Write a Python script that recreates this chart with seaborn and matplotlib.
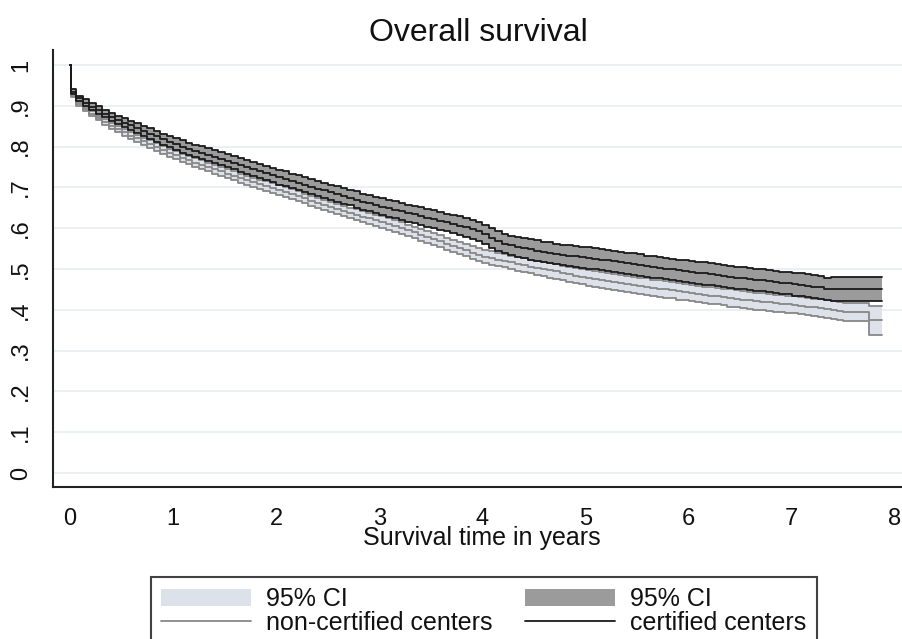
import numpy as np
import pandas as pd
import matplotlib
matplotlib.use("Agg")
import matplotlib.pyplot as plt
from matplotlib.patches import Patch
from matplotlib.lines import Line2D
import seaborn as sns

# Follow-up time points (years), one row per year
times = [0.0, 0.01, 0.0625, 0.125, 0.1875, 0.25, 0.3125, 0.375, 0.4375, 0.5, 0.5625, 0.625, 0.6875, 0.75, 0.8125, 0.875, 0.9375,
         1.0, 1.0625, 1.125, 1.1875, 1.25, 1.3125, 1.375, 1.4375, 1.5, 1.5625, 1.625, 1.6875, 1.75, 1.8125, 1.875, 1.9375,
         2.0, 2.0625, 2.125, 2.1875, 2.25, 2.3125, 2.375, 2.4375, 2.5, 2.5625, 2.625, 2.6875, 2.75, 2.8125, 2.875, 2.9375,
         3.0, 3.0625, 3.125, 3.1875, 3.25, 3.3125, 3.375, 3.4375, 3.5, 3.5625, 3.625, 3.6875, 3.75, 3.8125, 3.875, 3.9375,
         4.0, 4.0625, 4.125, 4.1875, 4.25, 4.3125, 4.375, 4.4375, 4.5, 4.5625, 4.625, 4.6875, 4.75, 4.8125, 4.875, 4.9375,
         5.0, 5.0625, 5.125, 5.1875, 5.25, 5.3125, 5.375, 5.4375, 5.5, 5.5625, 5.625, 5.6875, 5.75, 5.8125, 5.875, 5.9375,
         6.0, 6.0625, 6.125, 6.1875, 6.25, 6.3125, 6.375, 6.4375, 6.5, 6.5625, 6.625, 6.6875, 6.75, 6.8125, 6.875, 6.9375,
         7.0, 7.0625, 7.125, 7.1875, 7.25, 7.3125, 7.375, 7.4375, 7.5, 7.5625, 7.625, 7.6875, 7.75, 7.8125, 7.875]

# Kaplan-Meier survival estimate, certified centers
cert_surv = [1.000, 0.935, 0.918, 0.908, 0.898, 0.890, 0.881, 0.873, 0.866, 0.859, 0.852, 0.845, 0.839, 0.832, 0.825, 0.818, 0.812,
             0.806, 0.800, 0.795, 0.790, 0.785, 0.780, 0.775, 0.770, 0.765, 0.760, 0.755, 0.750, 0.745, 0.740, 0.735, 0.730,
             0.725, 0.721, 0.716, 0.712, 0.707, 0.702, 0.697, 0.693, 0.688, 0.684, 0.679, 0.675, 0.670, 0.665, 0.661, 0.657,
             0.653, 0.649, 0.645, 0.641, 0.637, 0.634, 0.630, 0.626, 0.622, 0.618, 0.614, 0.610, 0.606, 0.602, 0.597, 0.592,
             0.585, 0.576, 0.568, 0.562, 0.558, 0.554, 0.551, 0.548, 0.545, 0.542, 0.540, 0.537, 0.535, 0.533, 0.531, 0.529,
             0.527, 0.525, 0.523, 0.521, 0.519, 0.516, 0.514, 0.512, 0.510, 0.507, 0.505, 0.503, 0.501, 0.499, 0.497, 0.495,
             0.493, 0.491, 0.489, 0.487, 0.485, 0.483, 0.481, 0.479, 0.477, 0.475, 0.473, 0.472, 0.470, 0.468, 0.466, 0.465,
             0.463, 0.461, 0.459, 0.457, 0.455, 0.451, 0.451, 0.451, 0.451, 0.451, 0.451, 0.451, 0.451, 0.451, 0.451]
# half-width of its 95% confidence band
cert_ci = ([0.000, 0.006, 0.007, 0.008, 0.008, 0.009, 0.009, 0.010, 0.010, 0.011, 0.011, 0.012, 0.012, 0.013, 0.013, 0.014, 0.014]
           + [0.015] * 4 + [0.016] * 6 + [0.017] * 6
           + [0.018] * 6 + [0.019] * 6 + [0.020] * 4
           + [0.021] * 6 + [0.022] * 6 + [0.023] * 4
           + [0.024] * 6 + [0.025] * 8 + [0.026] * 2
           + [0.026] * 16
           + [0.027] * 16
           + [0.028] * 6 + [0.029] * 9)

# Kaplan-Meier survival estimate, non-certified centers
noncert_surv = [1.000, 0.925, 0.905, 0.893, 0.881, 0.870, 0.860, 0.851, 0.843, 0.835, 0.827, 0.820, 0.813, 0.806, 0.799, 0.792, 0.785,
                0.779, 0.773, 0.767, 0.761, 0.756, 0.750, 0.745, 0.739, 0.734, 0.728, 0.723, 0.718, 0.713, 0.708, 0.703, 0.698,
                0.694, 0.688, 0.683, 0.678, 0.673, 0.667, 0.662, 0.657, 0.652, 0.647, 0.642, 0.637, 0.633, 0.628, 0.624, 0.619,
                0.615, 0.610, 0.605, 0.600, 0.595, 0.590, 0.584, 0.579, 0.573, 0.568, 0.562, 0.557, 0.551, 0.546, 0.540, 0.535,
                0.530, 0.527, 0.523, 0.520, 0.516, 0.513, 0.509, 0.506, 0.503, 0.500, 0.497, 0.494, 0.490, 0.487, 0.484, 0.481,
                0.478, 0.476, 0.473, 0.471, 0.468, 0.466, 0.463, 0.461, 0.459, 0.457, 0.454, 0.452, 0.450, 0.448, 0.445, 0.443,
                0.441, 0.439, 0.437, 0.435, 0.433, 0.431, 0.429, 0.427, 0.425, 0.423, 0.421, 0.420, 0.418, 0.416, 0.415, 0.413,
                0.412, 0.410, 0.408, 0.406, 0.404, 0.402, 0.400, 0.398, 0.395, 0.395, 0.395, 0.395, 0.374, 0.374, 0.374]
noncert_ci = ([0.000, 0.004, 0.005, 0.005, 0.006, 0.006, 0.007, 0.007, 0.008, 0.008, 0.008, 0.008, 0.009, 0.009, 0.009, 0.009, 0.010]
              + [0.010] * 6 + [0.011] * 8 + [0.012] * 2
              + [0.012] * 6 + [0.013] * 8 + [0.014] * 2
              + [0.014] * 6 + [0.015] * 8 + [0.016] * 2
              + [0.016] * 4 + [0.017] * 6 + [0.018] * 6
              + [0.019] * 8 + [0.020] * 8
              + [0.020] * 6 + [0.021] * 10
              + [0.021] * 4 + [0.022] * 8 + [0.036] * 3)

y_ticks = [0, 0.1, 0.2, 0.3, 0.4, 0.5, 0.6, 0.7, 0.8, 0.9, 1.0]
y_labels = ["0", ".1", ".2", ".3", ".4", ".5", ".6", ".7", ".8", ".9", "1"]
x_ticks = [0, 1, 2, 3, 4, 5, 6, 7, 8]

LIGHT_FILL = "#dde2ea"
DARK_FILL = "#9b9b9b"
GRAY_LINE = "#878787"
BLACK_LINE = "#1a1a1a"
TEXT = "#111111"

sns.set_theme(style="white")
plt.rcParams["font.family"] = ["Liberation Sans", "DejaVu Sans"]

df = pd.DataFrame({
    "time": times * 2,
    "surv": cert_surv + noncert_surv,
    "ci": cert_ci + noncert_ci,
    "group": ["certified"] * len(times) + ["non-certified"] * len(times),
})
df["lower"] = df["surv"] - df["ci"]
df["upper"] = df["surv"] + df["ci"]

fig = plt.figure(figsize=(9.03, 6.39), dpi=100)
ax = fig.add_axes([53 / 903, 152 / 639, 850 / 903, 437 / 639])

# horizontal grid
for yv in y_ticks:
    ax.axhline(yv, color="#e6eff1", lw=1.2, zorder=0)

nc = df[df["group"] == "non-certified"]
ce = df[df["group"] == "certified"]

ax.fill_between(nc["time"], nc["lower"], nc["upper"], step="post",
                color=LIGHT_FILL, lw=0, zorder=1)
ax.fill_between(ce["time"], ce["lower"], ce["upper"], step="post",
                color=DARK_FILL, lw=0, zorder=2)

lw = 1.3
for col in ["lower", "upper", "surv"]:
    sns.lineplot(data=nc, x="time", y=col, estimator=None, sort=False,
                 drawstyle="steps-post", color=GRAY_LINE, lw=lw, ax=ax, zorder=3)
for col in ["lower", "upper", "surv"]:
    sns.lineplot(data=ce, x="time", y=col, estimator=None, sort=False,
                 drawstyle="steps-post", color=BLACK_LINE, lw=lw, ax=ax, zorder=4)

ax.set_xlim((53 - 70) / 103.125, (903 - 70) / 103.125)
ax.set_ylim((473 - 487) / 408, (473 - 50) / 408)

ax.set_yticks(y_ticks)
ax.set_yticklabels(y_labels, rotation=90, va="center", fontsize=17)
ax.set_xticks(x_ticks)
ax.set_xticklabels([str(v) for v in x_ticks], fontsize=17)
ax.tick_params(axis="both", direction="out", length=6, width=1.3,
               color="#222222", labelcolor=TEXT)
ax.tick_params(axis="x", pad=9)
ax.tick_params(axis="y", pad=9)

for side in ["top", "right"]:
    ax.spines[side].set_visible(False)
for side in ["left", "bottom"]:
    ax.spines[side].set_color("#222222")
    ax.spines[side].set_linewidth(1.5)

ax.set_xlabel("Survival time in years", fontsize=18, color=TEXT)
ax.xaxis.label.set_va("center")
ax.xaxis.set_label_coords((481.5 - 53) / 850, (487 - 538) / 437)
ax.set_ylabel("")
ax.set_title("Overall survival", fontsize=23, color=TEXT, pad=6.5)

handles = [Patch(facecolor=LIGHT_FILL, edgecolor="none"),
           Line2D([0], [0], color=GRAY_LINE, lw=lw),
           Patch(facecolor=DARK_FILL, edgecolor="none"),
           Line2D([0], [0], color=BLACK_LINE, lw=lw)]
labels = ["95% CI", "non-certified centers", "95% CI", "certified centers"]
leg = fig.legend(handles, labels, ncol=2, loc="upper left",
                 bbox_to_anchor=(151 / 903, (639 - 577) / 639),
                 bbox_transform=fig.transFigure, borderaxespad=0,
                 fontsize=18, frameon=True, fancybox=False,
                 handlelength=3.6, handleheight=0.64, handletextpad=0.6,
                 columnspacing=1.28, labelspacing=-0.04, borderpad=0.42)
leg.get_frame().set_edgecolor(TEXT)
leg.get_frame().set_linewidth(1.5)
for t in leg.get_texts():
    t.set_color(TEXT)

fig.savefig("out.png", dpi=100, facecolor="white")
